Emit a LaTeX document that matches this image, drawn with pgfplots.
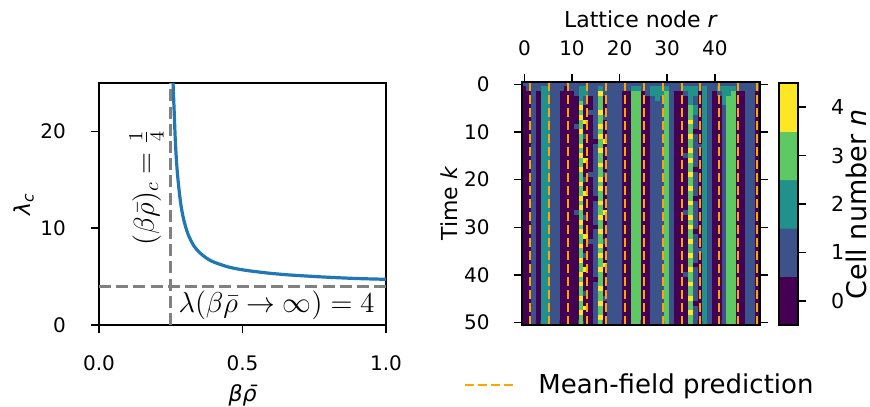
\documentclass[border=0pt]{standalone}
\usepackage[no-math]{fontspec}
\setmainfont{DejaVu Sans}
\usepackage{pgfplots}
\pgfplotsset{compat=1.18}

\definecolor{mplblue}{RGB}{31,119,180}
\definecolor{mfgray}{RGB}{128,128,128}
\definecolor{mforange}{RGB}{255,165,0}

\pgfplotsset{
  mpl/.style={
    scale only axis, anchor=south west,
    tick align=outside, major tick length=4pt,
    axis line style={line width=0.8pt},
    tick style={line width=0.8pt, black},
    /pgf/number format/assume math mode=true,
    every tick label/.append style={font=\fontsize{10}{12}\selectfont},
    every axis x label/.style={anchor=center, font=\fontsize{11}{13}\selectfont},
    every axis y label/.style={anchor=center, rotate=90, font=\fontsize{11}{13}\selectfont},
  },
  colormap={vir5}{rgb255=(68,1,84) rgb255=(59,82,139) rgb255=(33,145,140)
    rgb255=(94,201,98) rgb255=(253,231,37)},
}

\begin{document}
\begin{tikzpicture}
\useasboundingbox (0,0) rectangle (435pt,203pt);

% left: critical lambda
\begin{axis}[mpl, at={(49.5pt,40.5pt)}, width=143.5pt, height=121pt,
  xmin=0, xmax=1, ymin=0, ymax=25,
  xtick={0,0.5,1}, xticklabels={0.0,0.5,1.0}, ytick={0,10,20},
  xtick pos=left, ytick pos=left,
  xticklabel style={yshift=-8pt}, yticklabel style={xshift=-9pt},
  xlabel={\itshape βρ̄}, ylabel={\itshape λ\textsubscript{c}},
  xlabel style={at={(axis description cs:0.5,-0.29)}},
  ylabel style={at={(axis description cs:-0.262,0.5)}},
]
\addplot [mplblue, line width=1.6pt, smooth] coordinates {
  (0.258,25) (0.262,22) (0.266,19) (0.271,16.5) (0.277,14.5) (0.285,12.5)
  (0.295,10.9) (0.31,9.4) (0.33,8.2) (0.35,7.5) (0.375,6.9) (0.40,6.5)
  (0.45,6.0) (0.50,5.7) (0.55,5.5) (0.60,5.33) (0.65,5.2) (0.70,5.1)
  (0.80,4.93) (0.90,4.8) (1.00,4.72)};
\addplot [mfgray, line width=1.4pt, dash pattern=on 6pt off 2.6pt] coordinates {(0.25,0) (0.25,25)};
\addplot [mfgray, line width=1.4pt, dash pattern=on 6pt off 2.6pt] coordinates {(0,4) (1,4)};
\node [rotate=90, font=\fontsize{14}{16}\selectfont] at (axis cs:0.166,14.2) {$(\beta\bar{\rho})_c=\frac{1}{4}$};
\node [anchor=east, font=\fontsize{14}{16}\selectfont] at (axis cs:0.985,2.06) {$\lambda(\beta\bar{\rho}\to\infty)=4$};
\end{axis}

% right: simulated cell numbers
\begin{axis}[mpl, at={(261pt,40.5pt)}, width=119pt, height=121.5pt,
  xmin=-0.5, xmax=49.5, ymin=-0.5, ymax=50.5, y dir=reverse,
  axis on top, enlargelimits=false,
  xtick={0,10,20,30,40}, ytick={0,10,20,30,40,50},
  xtick pos=right, xticklabel pos=right, ytick pos=both, yticklabel pos=left,
  xticklabel style={yshift=5.5pt}, yticklabel style={xshift=-8.7pt},
  colormap name=vir5, colormap access=piecewise constant,
  point meta min=-0.5, point meta max=4.5,
  xlabel={Lattice node \textit{r}}, ylabel={Time \textit{k}},
  xlabel style={at={(axis description cs:0.5,1.259)}},
  ylabel style={at={(axis description cs:-0.307,0.5)}},
  legend style={at={(0.5,-0.247)}, anchor=center, draw=none, fill=none,
    font=\fontsize{13}{15}\selectfont,
    /tikz/every odd column/.append style={column sep=8pt}},
  legend image code/.code={\draw[#1] (0pt,0pt) -- (26pt,0pt);},
]
\addplot [matrix plot*, mesh/cols=50, point meta=explicit, forget plot]
  table [row sep=\\, header=false, meta index=0,
         x expr={mod(\coordindex,50)}, y expr={floor(\coordindex/50)}] {
1\\1\\1\\1\\1\\1\\1\\1\\1\\1\\ 1\\1\\1\\1\\1\\1\\1\\1\\1\\1\\ 1\\1\\1\\1\\1\\1\\1\\1\\1\\1\\ 1\\1\\1\\1\\1\\1\\1\\1\\1\\1\\ 1\\1\\1\\1\\1\\1\\1\\1\\1\\1\\
0\\1\\1\\1\\2\\2\\1\\1\\1\\0\\ 1\\1\\2\\2\\1\\1\\2\\1\\1\\1\\ 1\\1\\1\\2\\2\\1\\1\\2\\2\\2\\ 2\\1\\1\\1\\2\\2\\2\\1\\2\\1\\ 1\\2\\2\\2\\2\\1\\1\\1\\1\\1\\
0\\0\\1\\0\\2\\2\\1\\1\\0\\0\\ 0\\1\\2\\2\\1\\1\\4\\1\\1\\1\\ 1\\0\\0\\3\\3\\0\\1\\2\\2\\2\\ 3\\1\\0\\0\\1\\2\\2\\0\\2\\1\\ 0\\1\\2\\2\\3\\0\\0\\1\\1\\0\\
0\\0\\1\\0\\2\\2\\1\\1\\0\\0\\ 0\\0\\2\\1\\0\\1\\3\\0\\1\\1\\ 1\\0\\0\\3\\3\\0\\0\\1\\2\\1\\ 3\\1\\0\\0\\0\\2\\1\\0\\2\\1\\ 0\\0\\2\\3\\3\\0\\0\\1\\1\\0\\
0\\0\\1\\0\\2\\2\\1\\1\\0\\0\\ 0\\0\\3\\1\\0\\1\\3\\0\\1\\1\\ 1\\0\\0\\3\\3\\0\\0\\1\\1\\1\\ 3\\1\\0\\0\\0\\2\\1\\0\\2\\1\\ 0\\0\\2\\3\\3\\0\\0\\1\\1\\0\\
0\\0\\1\\0\\2\\2\\1\\1\\0\\0\\ 0\\0\\4\\0\\0\\1\\3\\0\\1\\1\\ 1\\0\\0\\3\\3\\0\\0\\1\\1\\1\\ 3\\1\\0\\0\\0\\3\\2\\0\\2\\1\\ 0\\0\\1\\3\\3\\0\\0\\1\\1\\0\\
0\\0\\1\\0\\2\\2\\1\\1\\0\\0\\ 0\\0\\3\\0\\1\\1\\4\\0\\1\\1\\ 1\\0\\0\\3\\3\\0\\0\\1\\1\\1\\ 3\\1\\0\\0\\0\\3\\2\\0\\2\\1\\ 0\\0\\1\\3\\3\\0\\0\\1\\1\\0\\
0\\0\\1\\0\\2\\2\\1\\1\\0\\0\\ 0\\0\\4\\0\\0\\1\\3\\1\\1\\1\\ 1\\0\\0\\3\\3\\0\\0\\1\\1\\1\\ 3\\1\\0\\0\\0\\3\\1\\0\\2\\1\\ 0\\0\\1\\3\\3\\0\\0\\1\\1\\0\\
0\\0\\1\\0\\2\\2\\1\\1\\0\\0\\ 0\\0\\3\\4\\0\\1\\3\\0\\1\\1\\ 1\\0\\0\\3\\3\\0\\0\\1\\1\\1\\ 3\\1\\0\\0\\0\\4\\1\\0\\2\\1\\ 0\\0\\1\\3\\3\\0\\0\\1\\1\\0\\
0\\0\\1\\0\\2\\2\\1\\1\\0\\0\\ 0\\1\\3\\0\\0\\1\\4\\0\\1\\1\\ 1\\0\\0\\3\\3\\0\\0\\1\\1\\1\\ 3\\1\\0\\0\\0\\3\\1\\0\\2\\1\\ 0\\0\\1\\3\\3\\0\\0\\1\\1\\0\\
0\\0\\1\\0\\2\\2\\1\\1\\0\\0\\ 0\\0\\4\\0\\0\\1\\3\\0\\1\\1\\ 1\\0\\0\\3\\3\\0\\0\\1\\1\\1\\ 3\\1\\0\\0\\0\\3\\0\\0\\2\\1\\ 0\\0\\1\\3\\3\\0\\0\\1\\1\\0\\
0\\0\\1\\0\\2\\2\\1\\1\\0\\0\\ 0\\0\\3\\1\\0\\1\\4\\0\\1\\1\\ 1\\0\\0\\3\\3\\0\\0\\1\\1\\1\\ 3\\1\\0\\0\\0\\4\\1\\0\\2\\1\\ 0\\0\\1\\3\\3\\0\\0\\1\\1\\0\\
0\\0\\1\\0\\2\\2\\1\\1\\0\\0\\ 0\\0\\3\\0\\0\\0\\3\\4\\1\\1\\ 1\\0\\0\\3\\3\\0\\0\\1\\1\\1\\ 3\\1\\0\\0\\0\\3\\1\\0\\2\\1\\ 0\\0\\1\\3\\3\\0\\0\\1\\1\\0\\
0\\0\\1\\0\\2\\2\\1\\1\\0\\0\\ 0\\0\\4\\0\\0\\1\\3\\0\\1\\1\\ 1\\0\\0\\3\\3\\0\\0\\1\\1\\1\\ 3\\1\\0\\0\\0\\3\\1\\1\\2\\1\\ 0\\0\\1\\3\\3\\0\\0\\1\\1\\0\\
0\\0\\1\\0\\2\\2\\1\\1\\0\\0\\ 0\\0\\3\\0\\0\\1\\4\\0\\1\\1\\ 1\\0\\0\\3\\3\\0\\0\\1\\1\\1\\ 3\\1\\0\\0\\0\\4\\1\\0\\2\\1\\ 0\\0\\1\\3\\3\\0\\0\\1\\1\\0\\
0\\0\\1\\0\\2\\2\\1\\1\\0\\0\\ 0\\0\\4\\0\\0\\1\\3\\0\\1\\1\\ 1\\0\\0\\3\\3\\0\\0\\1\\1\\1\\ 3\\1\\0\\0\\1\\3\\1\\0\\2\\1\\ 0\\0\\1\\3\\3\\0\\0\\1\\1\\0\\
0\\0\\1\\0\\2\\2\\1\\1\\0\\0\\ 0\\0\\3\\4\\0\\1\\3\\0\\1\\1\\ 1\\0\\0\\3\\3\\0\\0\\1\\1\\1\\ 3\\1\\0\\0\\0\\4\\1\\0\\2\\1\\ 0\\0\\1\\3\\3\\0\\0\\1\\1\\0\\
0\\0\\1\\0\\2\\2\\1\\1\\0\\0\\ 0\\0\\3\\0\\0\\1\\4\\0\\1\\1\\ 1\\0\\0\\3\\3\\0\\0\\1\\1\\1\\ 3\\1\\0\\0\\0\\3\\1\\0\\2\\1\\ 0\\0\\1\\3\\3\\0\\0\\1\\1\\0\\
0\\0\\1\\0\\2\\2\\1\\1\\0\\0\\ 0\\0\\4\\0\\0\\1\\3\\0\\1\\1\\ 1\\0\\0\\3\\3\\0\\0\\1\\1\\1\\ 3\\1\\0\\0\\0\\3\\0\\0\\2\\1\\ 0\\0\\1\\3\\3\\0\\0\\1\\1\\0\\
0\\0\\1\\0\\2\\2\\1\\1\\0\\0\\ 0\\0\\3\\0\\1\\1\\3\\1\\1\\1\\ 1\\0\\0\\3\\3\\0\\0\\1\\1\\1\\ 3\\1\\0\\0\\0\\4\\1\\0\\2\\1\\ 0\\0\\1\\3\\3\\0\\0\\1\\1\\0\\
0\\0\\1\\0\\2\\2\\1\\1\\0\\0\\ 0\\0\\3\\1\\0\\1\\4\\0\\1\\1\\ 1\\0\\0\\3\\3\\0\\0\\1\\1\\1\\ 3\\1\\0\\0\\0\\3\\1\\0\\2\\1\\ 0\\0\\1\\3\\3\\0\\0\\1\\1\\0\\
0\\0\\1\\0\\2\\2\\1\\1\\0\\0\\ 0\\0\\4\\0\\0\\1\\3\\0\\1\\1\\ 1\\0\\0\\3\\3\\0\\0\\1\\1\\1\\ 3\\1\\0\\0\\0\\3\\1\\0\\2\\1\\ 0\\0\\1\\3\\3\\0\\0\\1\\1\\0\\
0\\0\\1\\0\\2\\2\\1\\1\\0\\0\\ 0\\0\\3\\0\\0\\1\\4\\0\\1\\1\\ 1\\0\\0\\3\\3\\0\\0\\1\\1\\1\\ 3\\1\\0\\0\\0\\4\\1\\0\\2\\1\\ 0\\0\\1\\3\\3\\0\\0\\1\\1\\0\\
0\\0\\1\\0\\2\\2\\1\\1\\0\\0\\ 0\\0\\3\\4\\0\\1\\3\\0\\1\\1\\ 1\\0\\0\\3\\3\\0\\0\\1\\1\\1\\ 3\\1\\0\\0\\0\\3\\1\\0\\2\\1\\ 0\\0\\1\\3\\3\\0\\0\\1\\1\\0\\
0\\0\\1\\0\\2\\2\\1\\1\\0\\0\\ 0\\0\\4\\0\\0\\0\\3\\0\\1\\1\\ 1\\0\\0\\3\\3\\0\\0\\1\\1\\1\\ 3\\1\\0\\0\\0\\3\\0\\0\\2\\1\\ 0\\0\\1\\3\\3\\0\\0\\1\\1\\0\\
0\\0\\1\\0\\2\\2\\1\\1\\0\\0\\ 0\\0\\3\\0\\0\\1\\4\\0\\1\\1\\ 1\\0\\0\\3\\3\\0\\0\\1\\1\\1\\ 3\\1\\0\\0\\0\\4\\1\\0\\2\\1\\ 0\\0\\1\\3\\3\\0\\0\\1\\1\\0\\
0\\0\\1\\0\\2\\2\\1\\1\\0\\0\\ 0\\0\\4\\0\\0\\1\\3\\0\\1\\1\\ 1\\0\\0\\3\\3\\0\\0\\1\\1\\1\\ 3\\1\\0\\0\\0\\3\\1\\0\\2\\1\\ 0\\0\\1\\3\\3\\0\\0\\1\\1\\0\\
0\\0\\1\\0\\2\\2\\1\\1\\0\\0\\ 0\\1\\3\\0\\0\\1\\3\\4\\1\\1\\ 1\\0\\0\\3\\3\\0\\0\\1\\1\\1\\ 3\\1\\0\\0\\1\\3\\1\\0\\2\\1\\ 0\\0\\1\\3\\3\\0\\0\\1\\1\\0\\
0\\0\\1\\0\\2\\2\\1\\1\\0\\0\\ 0\\0\\3\\1\\0\\1\\4\\0\\1\\1\\ 1\\0\\0\\3\\3\\0\\0\\1\\1\\1\\ 3\\1\\0\\0\\0\\4\\1\\0\\2\\1\\ 0\\0\\1\\3\\3\\0\\0\\1\\1\\0\\
0\\0\\1\\0\\2\\2\\1\\1\\0\\0\\ 0\\0\\4\\0\\0\\1\\3\\0\\1\\1\\ 1\\0\\0\\3\\3\\0\\0\\1\\1\\1\\ 3\\1\\0\\0\\0\\3\\1\\0\\2\\1\\ 0\\0\\1\\3\\3\\0\\0\\1\\1\\0\\
0\\0\\1\\0\\2\\2\\1\\1\\0\\0\\ 0\\0\\3\\0\\0\\0\\3\\0\\1\\1\\ 1\\0\\0\\3\\3\\0\\0\\1\\1\\1\\ 3\\1\\0\\0\\0\\4\\1\\0\\2\\1\\ 0\\0\\1\\3\\3\\0\\0\\1\\1\\0\\
0\\0\\1\\0\\2\\2\\1\\1\\0\\0\\ 0\\0\\4\\0\\0\\1\\4\\0\\1\\1\\ 1\\0\\0\\3\\3\\0\\0\\1\\1\\1\\ 3\\1\\0\\0\\0\\3\\0\\0\\2\\1\\ 0\\0\\1\\3\\3\\0\\0\\1\\1\\0\\
0\\0\\1\\0\\2\\2\\1\\1\\0\\0\\ 0\\0\\3\\4\\0\\1\\3\\0\\1\\1\\ 1\\0\\0\\3\\3\\0\\0\\1\\1\\1\\ 3\\1\\0\\0\\0\\3\\1\\0\\2\\1\\ 0\\0\\1\\3\\3\\0\\0\\1\\1\\0\\
0\\0\\1\\0\\2\\2\\1\\1\\0\\0\\ 0\\0\\3\\0\\1\\1\\3\\1\\1\\1\\ 1\\0\\0\\3\\3\\0\\0\\1\\1\\1\\ 3\\1\\0\\0\\0\\4\\1\\0\\2\\1\\ 0\\0\\1\\3\\3\\0\\0\\1\\1\\0\\
0\\0\\1\\0\\2\\2\\1\\1\\0\\0\\ 0\\0\\4\\0\\0\\1\\4\\0\\1\\1\\ 1\\0\\0\\3\\3\\0\\0\\1\\1\\1\\ 3\\1\\0\\0\\0\\3\\1\\0\\2\\1\\ 0\\0\\1\\3\\3\\0\\0\\1\\1\\0\\
0\\0\\1\\0\\2\\2\\1\\1\\0\\0\\ 0\\0\\3\\0\\0\\1\\3\\0\\1\\1\\ 1\\0\\0\\3\\3\\0\\0\\1\\1\\1\\ 3\\1\\0\\0\\0\\3\\1\\1\\2\\1\\ 0\\0\\1\\3\\3\\0\\0\\1\\1\\0\\
0\\0\\1\\0\\2\\2\\1\\1\\0\\0\\ 0\\0\\3\\1\\0\\1\\4\\0\\1\\1\\ 1\\0\\0\\3\\3\\0\\0\\1\\1\\1\\ 3\\1\\0\\0\\0\\4\\1\\0\\2\\1\\ 0\\0\\1\\3\\3\\0\\0\\1\\1\\0\\
0\\0\\1\\0\\2\\2\\1\\1\\0\\0\\ 0\\0\\4\\0\\0\\1\\3\\0\\1\\1\\ 1\\0\\0\\3\\3\\0\\0\\1\\1\\1\\ 3\\1\\0\\0\\0\\3\\1\\0\\2\\1\\ 0\\0\\1\\3\\3\\0\\0\\1\\1\\0\\
0\\0\\1\\0\\2\\2\\1\\1\\0\\0\\ 0\\0\\3\\0\\0\\1\\3\\4\\1\\1\\ 1\\0\\0\\3\\3\\0\\0\\1\\1\\1\\ 3\\1\\0\\0\\0\\3\\0\\0\\2\\1\\ 0\\0\\1\\3\\3\\0\\0\\1\\1\\0\\
0\\0\\1\\0\\2\\2\\1\\1\\0\\0\\ 0\\0\\3\\4\\0\\1\\4\\0\\1\\1\\ 1\\0\\0\\3\\3\\0\\0\\1\\1\\1\\ 3\\1\\0\\0\\0\\4\\1\\0\\2\\1\\ 0\\0\\1\\3\\3\\0\\0\\1\\1\\0\\
0\\0\\1\\0\\2\\2\\1\\1\\0\\0\\ 0\\0\\4\\0\\0\\1\\3\\0\\1\\1\\ 1\\0\\0\\3\\3\\0\\0\\1\\1\\1\\ 3\\1\\0\\0\\1\\3\\1\\0\\2\\1\\ 0\\0\\1\\3\\3\\0\\0\\1\\1\\0\\
0\\0\\1\\0\\2\\2\\1\\1\\0\\0\\ 0\\0\\3\\0\\0\\0\\3\\0\\1\\1\\ 1\\0\\0\\3\\3\\0\\0\\1\\1\\1\\ 3\\1\\0\\0\\0\\3\\1\\0\\2\\1\\ 0\\0\\1\\3\\3\\0\\0\\1\\1\\0\\
0\\0\\1\\0\\2\\2\\1\\1\\0\\0\\ 0\\0\\4\\0\\0\\1\\3\\0\\1\\1\\ 1\\0\\0\\3\\3\\0\\0\\1\\1\\1\\ 3\\1\\0\\0\\0\\4\\1\\0\\2\\1\\ 0\\0\\1\\3\\3\\0\\0\\1\\1\\0\\
0\\0\\1\\0\\2\\2\\1\\1\\0\\0\\ 0\\0\\3\\0\\0\\1\\4\\0\\1\\1\\ 1\\0\\0\\3\\3\\0\\0\\1\\1\\1\\ 3\\1\\0\\0\\0\\3\\1\\0\\2\\1\\ 0\\0\\1\\3\\3\\0\\0\\1\\1\\0\\
0\\0\\1\\0\\2\\2\\1\\1\\0\\0\\ 0\\0\\3\\1\\0\\1\\3\\0\\1\\1\\ 1\\0\\0\\3\\3\\0\\0\\1\\1\\1\\ 3\\1\\0\\0\\0\\3\\1\\0\\2\\1\\ 0\\0\\1\\3\\3\\0\\0\\1\\1\\0\\
0\\0\\1\\0\\2\\2\\1\\1\\0\\0\\ 0\\0\\4\\0\\0\\1\\3\\1\\1\\1\\ 1\\0\\0\\3\\3\\0\\0\\1\\1\\1\\ 3\\1\\0\\0\\0\\4\\1\\0\\2\\1\\ 0\\0\\1\\3\\3\\0\\0\\1\\1\\0\\
0\\0\\1\\0\\2\\2\\1\\1\\0\\0\\ 0\\0\\3\\0\\0\\1\\4\\0\\1\\1\\ 1\\0\\0\\3\\3\\0\\0\\1\\1\\1\\ 3\\1\\0\\0\\0\\3\\0\\0\\2\\1\\ 0\\0\\1\\3\\3\\0\\0\\1\\1\\0\\
0\\0\\1\\0\\2\\2\\1\\1\\0\\0\\ 0\\0\\3\\4\\0\\1\\3\\0\\1\\1\\ 1\\0\\0\\3\\3\\0\\0\\1\\1\\1\\ 3\\1\\0\\0\\0\\3\\1\\0\\2\\1\\ 0\\0\\1\\3\\3\\0\\0\\1\\1\\0\\
0\\0\\1\\0\\2\\2\\1\\1\\0\\0\\ 0\\0\\4\\0\\0\\1\\3\\0\\1\\1\\ 1\\0\\0\\3\\3\\0\\0\\1\\1\\1\\ 3\\1\\0\\0\\0\\4\\1\\0\\2\\1\\ 0\\0\\1\\3\\3\\0\\0\\1\\1\\0\\
0\\0\\1\\0\\2\\2\\1\\1\\0\\0\\ 0\\0\\3\\0\\0\\1\\4\\0\\1\\1\\ 1\\0\\0\\3\\3\\0\\0\\1\\1\\1\\ 3\\1\\0\\0\\0\\3\\1\\0\\2\\1\\ 0\\0\\1\\3\\3\\0\\0\\1\\1\\0\\
0\\0\\1\\0\\2\\2\\1\\1\\0\\0\\ 0\\0\\3\\0\\0\\1\\3\\0\\1\\1\\ 1\\0\\0\\3\\3\\0\\0\\1\\1\\1\\ 3\\1\\0\\0\\0\\3\\1\\0\\2\\1\\ 0\\0\\1\\3\\3\\0\\0\\1\\1\\0\\
};
\addplot [mforange, line width=1pt, dash pattern=on 4.5pt off 2pt, unbounded coords=jump]
  coordinates {
  (1.25,-0.5) (1.25,50.5) (nan,nan) (5.22,-0.5) (5.22,50.5) (nan,nan)
  (9.19,-0.5) (9.19,50.5) (nan,nan) (13.16,-0.5) (13.16,50.5) (nan,nan)
  (17.13,-0.5) (17.13,50.5) (nan,nan) (21.1,-0.5) (21.1,50.5) (nan,nan)
  (25.07,-0.5) (25.07,50.5) (nan,nan) (29.04,-0.5) (29.04,50.5) (nan,nan)
  (33.01,-0.5) (33.01,50.5) (nan,nan) (36.98,-0.5) (36.98,50.5) (nan,nan)
  (40.95,-0.5) (40.95,50.5) (nan,nan) (44.92,-0.5) (44.92,50.5) (nan,nan)
  (48.89,-0.5) (48.89,50.5)};
\addlegendentry{Mean-field prediction}
\end{axis}

% colour bar
\begin{axis}[mpl, at={(389.5pt,40.5pt)}, width=9.5pt, height=121pt,
  xmin=0, xmax=1, ymin=-0.5, ymax=4.5, xtick=\empty, ytick={0,1,2,3,4},
  ytick pos=right, yticklabel pos=right, axis on top, enlargelimits=false,
  yticklabel style={xshift=9pt, font=\fontsize{10.3}{12}\selectfont},
  colormap name=vir5, colormap access=piecewise constant,
  point meta min=-0.5, point meta max=4.5,
  ylabel={Cell number \textit{n}},
  ylabel style={at={(axis description cs:4.05,0.5)}, font=\fontsize{13.5}{15}\selectfont},
]
\addplot [matrix plot*, mesh/cols=2, point meta=explicit] coordinates {
  (0.25,0) [0] (0.75,0) [0] (0.25,1) [1] (0.75,1) [1] (0.25,2) [2] (0.75,2) [2]
  (0.25,3) [3] (0.75,3) [3] (0.25,4) [4] (0.75,4) [4]};
\end{axis}
\end{tikzpicture}
\end{document}
